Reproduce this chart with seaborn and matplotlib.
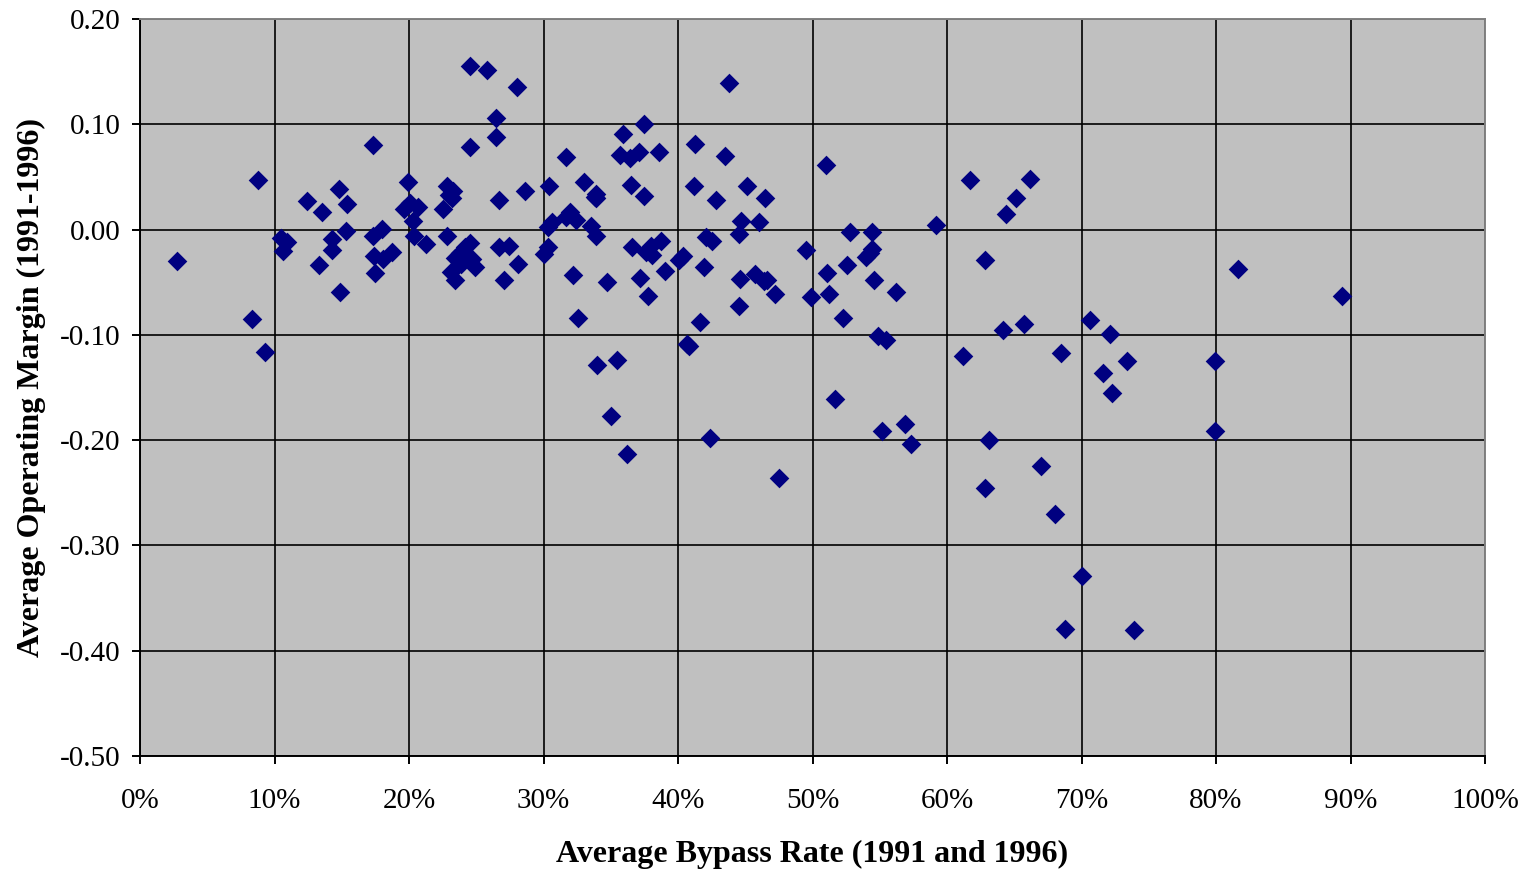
import numpy as np
import pandas as pd
import matplotlib
matplotlib.use("Agg")
import matplotlib.pyplot as plt
import seaborn as sns
from matplotlib.ticker import FuncFormatter, MultipleLocator

# Average bypass rate (percent) and average operating margin
bypass_rate = [
    2.75, 8.3, 8.8, 9.3, 10.5, 10.6, 10.9, 12.4, 13.3, 13.5,
    14.3, 14.3, 14.8, 14.9, 15.3, 15.4, 17.3, 17.3, 17.4, 17.5,
    18.0, 18.1, 18.7, 19.6, 19.9, 20.1, 20.3, 20.4, 20.7, 21.3,
    22.5, 22.8, 22.8, 23.0, 23.1, 23.3, 23.4, 23.4, 23.8, 23.9,
    24.2, 24.5, 24.7, 24.5, 24.5, 24.9, 25.8, 26.5, 26.5, 26.7,
    26.7, 27.1, 27.4, 28.0, 28.1, 28.6, 30.0, 30.3, 30.4, 30.3,
    30.6, 31.7, 31.7, 32.0, 32.2, 32.4, 32.6, 33.0, 33.5, 33.8,
    33.9, 33.9, 34.0, 34.7, 35.0, 35.5, 35.7, 35.9, 36.2, 36.4,
    36.5, 36.6, 37.1, 37.2, 37.5, 37.5, 37.6, 37.8, 38.0, 38.1,
    38.6, 38.7, 39.0, 40.1, 40.4, 40.7, 40.8, 41.2, 41.3, 41.6,
    41.9, 42.1, 42.4, 42.5, 42.8, 43.5, 43.8, 44.5, 44.5, 44.6,
    44.7, 45.1, 45.7, 46.0, 46.5, 46.6, 47.2, 47.5, 49.5, 49.9,
    51.0, 51.1, 51.2, 51.7, 52.3, 52.6, 52.8, 54.0, 54.4, 54.4,
    54.6, 54.9, 55.2, 55.5, 56.2, 56.9, 57.3, 59.2, 61.2, 61.7,
    62.8, 62.8, 63.1, 64.2, 64.4, 65.1, 65.7, 66.2, 67.0, 68.0,
    68.5, 68.8, 70.0, 70.6, 71.6, 72.1, 72.3, 73.4, 73.9, 79.9,
    79.9, 81.6, 89.4, 23.2, 33.9, 46.4, 24.0, 54.3,
]
operating_margin = [
    -0.030, -0.085, 0.047, -0.116, -0.008, -0.020, -0.012, 0.027, -0.034, 0.017,
    -0.009, -0.019, 0.039, -0.059, -0.001, 0.024, 0.080, -0.006, -0.025, -0.041,
    0.001, -0.028, -0.021, 0.020, 0.045, 0.025, 0.008, -0.006, 0.021, -0.014,
    0.020, 0.041, -0.006, 0.033, -0.040, 0.037, -0.048, -0.027, -0.022, -0.033,
    -0.017, -0.013, -0.028, 0.078, 0.155, -0.036, 0.152, 0.106, 0.088, 0.028,
    -0.017, -0.048, -0.016, 0.135, -0.033, 0.037, -0.023, -0.017, 0.041, 0.002,
    0.007, 0.069, 0.012, 0.017, -0.043, 0.009, -0.084, 0.045, 0.003, 0.031,
    0.034, -0.006, -0.129, -0.050, -0.177, -0.124, 0.071, 0.091, -0.213, 0.068,
    0.042, -0.017, 0.074, -0.046, 0.100, 0.032, -0.021, -0.063, -0.016, -0.024,
    0.074, -0.011, -0.039, -0.029, -0.025, -0.109, -0.111, 0.041, 0.081, -0.088,
    -0.036, -0.007, -0.198, -0.011, 0.028, 0.070, 0.139, -0.004, -0.073, -0.047,
    0.008, 0.041, -0.042, 0.007, 0.030, -0.048, -0.061, -0.236, -0.019, -0.064,
    0.061, -0.041, -0.061, -0.161, -0.084, -0.034, -0.002, -0.026, -0.002, -0.018,
    -0.048, -0.101, -0.191, -0.105, -0.059, -0.185, -0.204, 0.004, -0.120, 0.047,
    -0.029, -0.245, -0.200, -0.095, 0.015, 0.030, -0.090, 0.048, -0.225, -0.270,
    -0.117, -0.379, -0.329, -0.086, -0.136, -0.099, -0.155, -0.125, -0.380, -0.125,
    -0.191, -0.037, -0.063, 0.030, 0.030, -0.049, -0.021, -0.022,
]

df = pd.DataFrame({"rate": np.array(bypass_rate) / 100.0, "margin": operating_margin})

sns.set_style("white")
plt.rcParams["font.family"] = ["Liberation Serif", "DejaVu Serif"]
plt.rcParams["text.color"] = "black"
plt.rcParams["axes.labelcolor"] = "black"
plt.rcParams["xtick.color"] = "black"
plt.rcParams["ytick.color"] = "black"

fig = plt.figure(figsize=(15.32, 8.75), dpi=100)
ax = fig.add_axes([140 / 1532, 1 - 756 / 875, (1485 - 140) / 1532, (756 - 19) / 875])
ax.set_facecolor("#C0C0C0")

sns.scatterplot(
    data=df,
    x="rate",
    y="margin",
    marker="D",
    s=100,
    color="#000080",
    edgecolor="#000080",
    linewidth=0,
    ax=ax,
    legend=False,
    zorder=3,
)

ax.set_xlim(0, 1.0)
ax.set_ylim(-0.50, 0.20)
ax.xaxis.set_major_locator(MultipleLocator(0.1))
ax.yaxis.set_major_locator(MultipleLocator(0.1))
ax.xaxis.set_major_formatter(FuncFormatter(lambda v, p: f"{v * 100:.0f}%"))
ax.yaxis.set_major_formatter(FuncFormatter(lambda v, p: f"{v:.2f}"))

ax.grid(True, color="black", linewidth=1.2)
ax.set_axisbelow(True)

for side in ["left", "bottom"]:
    ax.spines[side].set_color("black")
    ax.spines[side].set_linewidth(1.4)
for side in ["top", "right"]:
    ax.spines[side].set_color("#808080")
    ax.spines[side].set_linewidth(1.4)

ax.tick_params(axis="both", direction="out", length=6, width=1.4, color="black",
               labelcolor="black", labelsize=21, left=True, bottom=True)
ax.tick_params(axis="x", pad=17)
ax.tick_params(axis="y", pad=8)

ax.set_xlabel("Average Bypass Rate (1991 and 1996)", fontsize=23, fontweight="bold",
              labelpad=19, color="black")
ax.set_ylabel("Average Operating Margin (1991-1996)", fontsize=23, fontweight="bold",
              labelpad=10, color="black")

plt.savefig("out.png", dpi=100, facecolor="white")
